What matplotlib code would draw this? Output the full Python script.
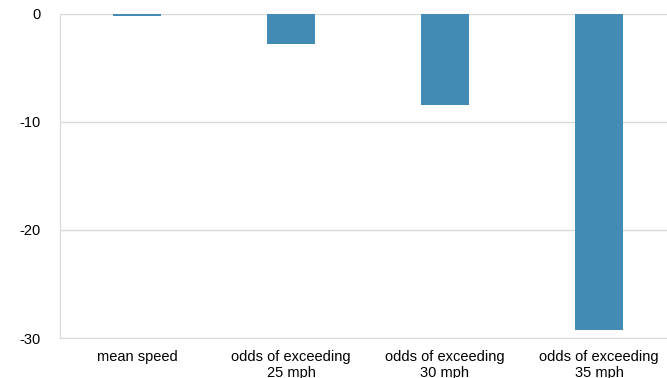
import matplotlib
matplotlib.use("Agg")
import matplotlib.pyplot as plt

categories = ["mean speed", "odds of exceeding\n25 mph", "odds of exceeding\n30 mph", "odds of exceeding\n35 mph"]
values = [-0.25, -2.85, -8.5, -29.25]
yticks = [0, -10, -20, -30]

plt.rcParams['font.family'] = ['Liberation Sans', 'DejaVu Sans']

W, H = 667, 378
fig = plt.figure(figsize=(W/100, H/100), dpi=100)
left, right, top, bottom = 60, 676, 13.5, 338
ax = fig.add_axes([left/W, 1 - bottom/H, (right-left)/W, (bottom-top)/H])

x = list(range(len(categories)))
ax.bar(x, values, width=0.318, color="#428BB5", zorder=3)
ax.set_xlim(-0.5, 3.5)
ax.set_ylim(-30, 0)
ax.set_yticks(yticks)
ax.set_yticklabels([str(v) for v in yticks])
ax.set_xticks(x)
ax.set_xticklabels(categories, linespacing=1.1)
ax.grid(axis='y', color='#d9d9d9', linewidth=1, zorder=0)
for s in ['top', 'right']:
    ax.spines[s].set_visible(False)
ax.spines['left'].set_color('#d9d9d9')
ax.spines['bottom'].set_color('#d9d9d9')
ax.tick_params(axis='both', length=0, labelsize=10.5, colors='black')
ax.tick_params(axis='y', pad=14)
ax.tick_params(axis='x', pad=9)

fig.savefig("out.png", dpi=100)
